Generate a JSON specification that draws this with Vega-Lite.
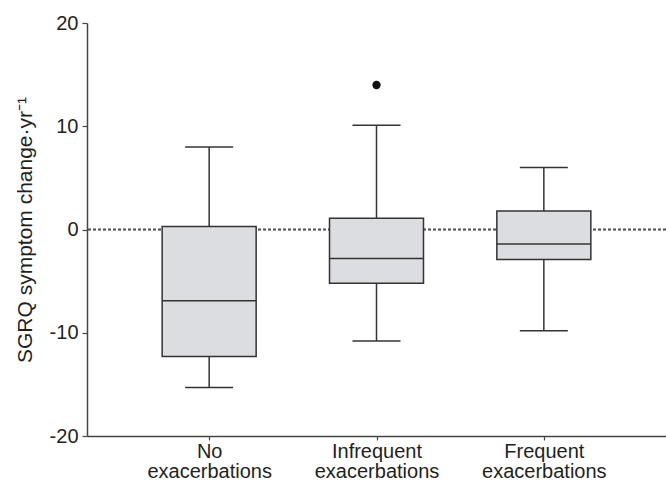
{
  "$schema": "https://vega.github.io/schema/vega-lite/v6.json",
  "autosize": {"type": "none"},
  "width": 579,
  "height": 413,
  "padding": {"left": 87, "top": 23, "right": 0, "bottom": 49},
  "background": "white",
  "datasets": {
    "boxes": [
      {"group": "No exacerbations", "lower": -15.3, "q1": -12.3, "median": -6.9, "q3": 0.3, "upper": 8.0},
      {"group": "Infrequent exacerbations", "lower": -10.8, "q1": -5.2, "median": -2.8, "q3": 1.1, "upper": 10.1},
      {"group": "Frequent exacerbations", "lower": -9.8, "q1": -2.9, "median": -1.4, "q3": 1.8, "upper": 6.0}
    ],
    "outliers": [
      {"group": "Infrequent exacerbations", "value": 14.0}
    ]
  },
  "data": {"name": "boxes"},
  "encoding": {
    "x": {
      "field": "group",
      "type": "nominal",
      "sort": ["No exacerbations", "Infrequent exacerbations", "Frequent exacerbations"],
      "scale": {"type": "point", "padding": 0.73},
      "axis": {
        "title": null,
        "labelAngle": 0,
        "labelExpr": "split(datum.label, ' ')",
        "labelFontSize": 20,
        "labelLineHeight": 20,
        "labelPadding": 1,
        "tickSize": 4
      }
    }
  },
  "layer": [
    {
      "mark": {"type": "rule", "color": "#555555", "strokeWidth": 1.3, "strokeDash": [3, 2]},
      "encoding": {
        "y": {"datum": 0, "type": "quantitative", "title": "SGRQ symptom change·yr⁻¹"},
        "x": null
      }
    },
    {
      "mark": {"type": "rule", "color": "#333333", "strokeWidth": 1.5},
      "encoding": {
        "y": {
          "field": "lower",
          "type": "quantitative",
          "title": "SGRQ symptom change·yr⁻¹",
          "scale": {"domain": [-20, 20]},
          "axis": {
            "values": [-20, -10, 0, 10, 20],
            "labelExpr": "'' + datum.value"
          }
        },
        "y2": {"field": "q1"}
      }
    },
    {
      "mark": {"type": "rule", "color": "#333333", "strokeWidth": 1.5},
      "encoding": {
        "y": {"field": "q3", "type": "quantitative", "title": "SGRQ symptom change·yr⁻¹"},
        "y2": {"field": "upper"}
      }
    },
    {
      "mark": {"type": "bar", "size": 94, "fill": "#dcdde0", "stroke": "#333333", "strokeWidth": 1.5},
      "encoding": {
        "y": {"field": "q1", "type": "quantitative", "title": "SGRQ symptom change·yr⁻¹"},
        "y2": {"field": "q3"}
      }
    },
    {
      "mark": {"type": "tick", "size": 94, "thickness": 1.5, "color": "#333333", "opacity": 1},
      "encoding": {"y": {"field": "median", "type": "quantitative", "title": "SGRQ symptom change·yr⁻¹"}}
    },
    {
      "mark": {"type": "tick", "size": 48, "thickness": 1.5, "color": "#333333", "opacity": 1},
      "encoding": {"y": {"field": "upper", "type": "quantitative", "title": "SGRQ symptom change·yr⁻¹"}}
    },
    {
      "mark": {"type": "tick", "size": 48, "thickness": 1.5, "color": "#333333", "opacity": 1},
      "encoding": {"y": {"field": "lower", "type": "quantitative", "title": "SGRQ symptom change·yr⁻¹"}}
    },
    {
      "data": {"name": "outliers"},
      "mark": {"type": "point", "filled": true, "color": "#111111", "size": 70, "opacity": 1},
      "encoding": {"y": {"field": "value", "type": "quantitative", "title": "SGRQ symptom change·yr⁻¹"}}
    }
  ],
  "resolve": {"scale": {"y": "shared"}},
  "config": {
    "view": {"stroke": null},
    "font": "Liberation Sans",
    "axis": {
      "grid": false,
      "domainColor": "#444444",
      "domainWidth": 1.5,
      "tickColor": "#444444",
      "tickWidth": 1.2,
      "labelColor": "#231f20",
      "titleColor": "#231f20",
      "labelFont": "Liberation Sans",
      "titleFont": "Liberation Sans",
      "titleFontWeight": "normal"
    },
    "axisY": {
      "labelFontSize": 20,
      "titleFontSize": 21,
      "tickSize": 5,
      "labelPadding": 4,
      "titlePadding": 14
    }
  }
}
